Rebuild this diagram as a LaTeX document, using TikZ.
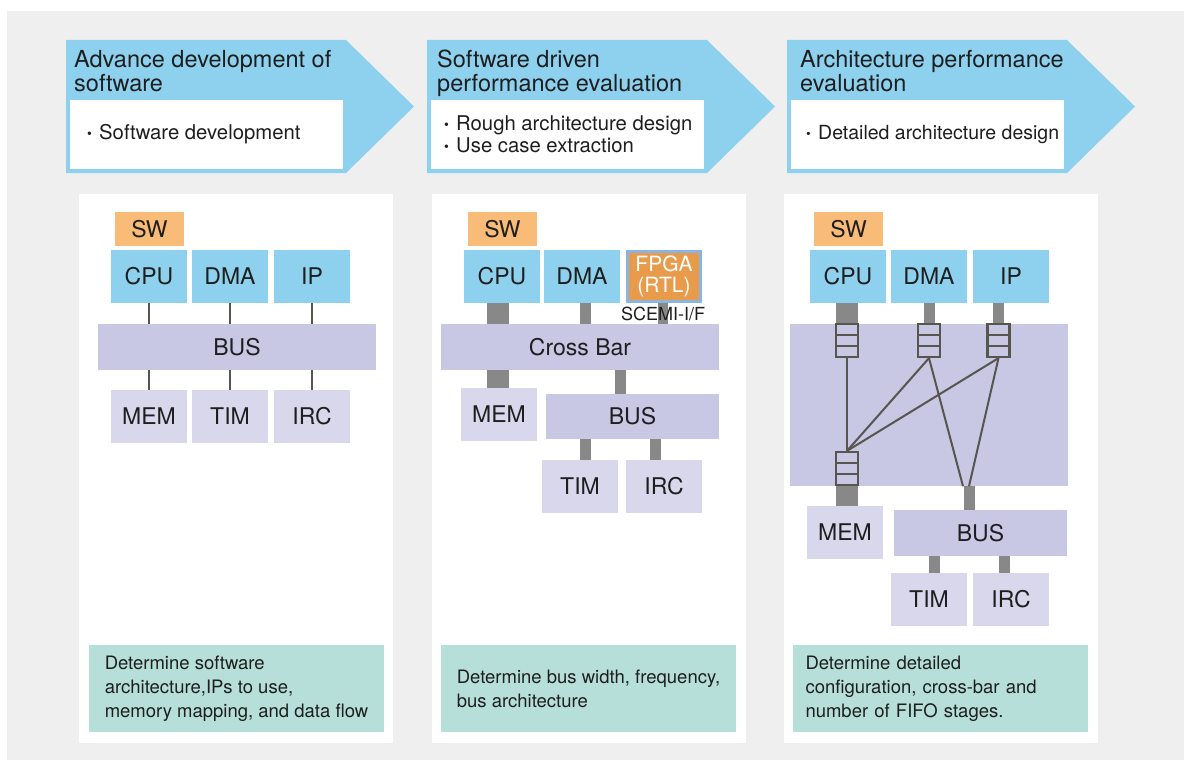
\documentclass[tikz,border=0pt]{standalone}
\usepackage{fontspec}
\usepackage{graphicx}
\setmainfont{TeX Gyre Heros}
\usetikzlibrary{calc}

\definecolor{bggray}{HTML}{EFEFEF}
\definecolor{hdblue}{HTML}{8DD1EF}
\definecolor{swor}{HTML}{F8BB78}
\definecolor{fpgaor}{HTML}{E99B4C}
\definecolor{fpgaedge}{HTML}{8BB5E1}
\definecolor{buslav}{HTML}{C8C7E4}
\definecolor{devlav}{HTML}{D9D7EC}
\definecolor{noteteal}{HTML}{B6DFDA}
\definecolor{linkgray}{HTML}{888888}
\definecolor{linedark}{HTML}{58554F}
\definecolor{txt}{HTML}{1E1E1E}

\newcommand{\fs}[1]{\fontsize{#1}{#1}\selectfont}
\newcommand{\itm}{\makebox[13pt][l]{\hspace{1pt}\raisebox{1pt}{\scalebox{0.68}{\textbullet}}}}

\tikzset{
  master/.style={fill=hdblue, text=txt, minimum width=76pt, minimum height=53pt, inner sep=0pt, font=\fs{23}},
  slave/.style={master, fill=devlav},
  swbox/.style={fill=swor, text=txt, minimum width=69pt, minimum height=34pt, inner sep=0pt, font=\fs{23}},
  busbox/.style 2 args={fill=buslav, text=txt, minimum width=#1pt, minimum height=#2pt, inner sep=0pt, font=\fs{23}},
  wide/.style={draw=linkgray, line width=22pt},
  narrow/.style={draw=linkgray, line width=11pt},
  thinlink/.style={draw=linedark, line width=2pt},
  xline/.style={draw=linedark, line width=2pt},
  fifo/.style={draw=linedark, line width=2.2pt, fill=buslav, minimum width=22pt, minimum height=33pt, inner sep=0pt,
    path picture={
      \draw[linedark, line width=2.2pt]
        ($(path picture bounding box.north west)!1/3!(path picture bounding box.south west)$) --
        ($(path picture bounding box.north east)!1/3!(path picture bounding box.south east)$)
        ($(path picture bounding box.north west)!2/3!(path picture bounding box.south west)$) --
        ($(path picture bounding box.north east)!2/3!(path picture bounding box.south east)$);
    }},
  hdtitle/.style={anchor=north west, align=left, inner sep=0pt, text=txt, font=\fontsize{23.5}{24}\selectfont},
  hditem/.style={anchor=west, align=left, inner sep=0pt, text=txt, font=\fontsize{20.3}{22}\selectfont},
  note/.style={fill=noteteal, text=txt, minimum width=295pt, minimum height=87pt, align=left, inner sep=0pt, font=\fontsize{18.5}{24}\selectfont},
}

\begin{document}
\begin{tikzpicture}[x=1pt, y=-1pt]
    \useasboundingbox (0,0) rectangle (1184,760);

    % Background
    \fill[bggray] (7,11) rectangle (1184,760);

    % Header arrows
    \foreach \x in {66,427,787} {
        \fill[hdblue] (\x,40) -- ++(280,0) -- ++(68,66.5) -- ++(-68,66.5) -- ++(-280,0) -- cycle;
        \fill[white] (\x+3.5,100) rectangle (\x+276.5,169);
    }
    \node[hdtitle] (hd1) at (74,50) {Advance development of\\software};
    \node[hdtitle] (hd2) at (437,50) {Software driven\\performance evaluation};
    \node[hdtitle] (hd3) at (800,50) {Architecture performance\\evaluation};
    \node[hditem] (it1) at (86,134.5) {\itm Software development};
    \node[hditem] (it2) at (443,134.5) {\itm Rough architecture design\\\itm Use case extraction};
    \node[hditem, font=\fontsize{19.5}{22}\selectfont] (it3) at (805,134.5) {\itm Detailed architecture design};

    % Panels
    \fill[white] (79,194) rectangle (393,743);
    \fill[white] (432,194) rectangle (746,743);
    \fill[white] (784,194) rectangle (1098,743);

    % Panel 1: shared bus
    \node[swbox] (swA) at (149.5,229) {SW};
    \node[master] (cpuA) at (149,276.5) {CPU};
    \node[master] (dmaA) at (230,276.5) {DMA};
    \node[master] (ipA) at (312,276.5) {IP};
    \node[busbox={278}{46}] (busA) at (237,347) {BUS};
    \node[slave] (memA) at (149,416.5) {MEM};
    \node[slave] (timA) at (230,416.5) {TIM};
    \node[slave] (ircA) at (312,416.5) {IRC};
    \foreach \m in {cpuA,dmaA,ipA} {
        \draw[thinlink] (\m.south) -- (\m.south |- busA.north);
    }
    \foreach \s in {memA,timA,ircA} {
        \draw[thinlink] (\s.north) -- (\s.north |- busA.south);
    }

    % Panel 2: cross bar with FPGA
    \node[swbox] (swB) at (502.5,229) {SW};
    \node[master] (cpuB) at (502,276.5) {CPU};
    \node[master] (dmaB) at (582,276.5) {DMA};
    \node[master, fill=fpgaor, draw=fpgaedge, line width=3pt, minimum width=73pt, minimum height=50pt,
          text=white, align=center, font=\fontsize{21}{21}\selectfont] (fpgaB) at (664,276.5) {FPGA\\(RTL)};
    \node[busbox={278}{46}] (xbarB) at (580,347) {Cross Bar};
    \node[slave] (memB) at (499,414.5) {MEM};
    \node[busbox={173}{45}] (busB) at (632.5,416.5) {BUS};
    \node[slave] (timB) at (580,486.5) {TIM};
    \node[slave] (ircB) at (664,486.5) {IRC};
    \draw[wide] ([xshift=-4pt]cpuB.south) -- ([xshift=-4pt]cpuB.south |- xbarB.north);
    \draw[narrow] ([xshift=3pt]dmaB.south) -- ([xshift=3pt]dmaB.south |- xbarB.north);
    \draw[draw=linkgray, line width=10pt] ([xshift=-1pt]fpgaB.south) -- ([xshift=-1pt]fpgaB.south |- xbarB.north);
    \node[inner sep=0pt, text=txt, font=\fs{18}] (scemi) at (663,314) {SCEMI-I/F};
    \draw[wide] ([xshift=-1pt]memB.north) -- ([xshift=-1pt]memB.north |- xbarB.south);
    \draw[narrow] ([xshift=-12.5pt]busB.north) -- ([xshift=-12.5pt]busB.north |- xbarB.south);
    \draw[narrow] ([xshift=5pt]timB.north) -- ([xshift=5pt]timB.north |- busB.south);
    \draw[narrow] ([xshift=-9pt]ircB.north) -- ([xshift=-9pt]ircB.north |- busB.south);

    % Panel 3: cross bar with FIFO stages
    \node[swbox] (swC) at (848.5,229) {SW};
    \node[master] (cpuC) at (848,276.5) {CPU};
    \node[master] (dmaC) at (929,276.5) {DMA};
    \node[master] (ipC) at (1011,276.5) {IP};
    \node[busbox={278}{162}] (xbarC) at (929,405) {};
    \node[slave] (memC) at (845,532.5) {MEM};
    \node[busbox={173}{46}] (busC) at (980.5,533) {BUS};
    \node[slave] (timC) at (929,599.5) {TIM};
    \node[slave] (ircC) at (1011,599.5) {IRC};
    \coordinate (jn) at ([xshift=40.5pt]xbarC.south);
    \draw[wide] (cpuC.south -| 847,0) -- ++(0,22);
    \draw[narrow] (dmaC.south) -- ++(0,22);
    \draw[narrow] (ipC.south -| 998.5,0) -- ++(0,22);
    \draw[narrow] (jn) -- (jn |- busC.north);
    \draw[narrow] ([xshift=5.5pt]timC.north) -- ([xshift=5.5pt]timC.north |- busC.south);
    \draw[narrow] ([xshift=-6.5pt]ircC.north) -- ([xshift=-6.5pt]ircC.north |- busC.south);
    \node[fifo] (fifo1) at (847,340.5) {};
    \node[fifo] (fifo2) at (929,340.5) {};
    \node[fifo] (fifo3) at (998.5,340.5) {};
    \node[fifo] (fifo4) at (847,468.5) {};
    \draw[wide] (fifo4.south) -- (fifo4.south |- memC.north);
    \draw[xline] (fifo1.south) -- (fifo4.north);
    \draw[xline] (fifo2.south) -- (fifo4.north);
    \draw[xline] (fifo3.south) -- (fifo4.north);
    \draw[xline] (fifo2.south) -- ([xshift=-6.5pt]jn);
    \draw[xline] (fifo3.south) -- ([xshift=-0.5pt]jn);

    % Notes
    \node[note] (noteA) at (236.5,688.5) {Determine software\\architecture,IPs to use,\\memory mapping, and data flow};
    \node[note] (noteB) at (588.5,688.5) {Determine bus width, frequency,\\bus architecture};
    \node[note, text width=270pt] (noteC) at (940.5,688.5) {Determine detailed\\configuration, cross-bar and\\number of FIFO stages.};
\end{tikzpicture}
\end{document}
